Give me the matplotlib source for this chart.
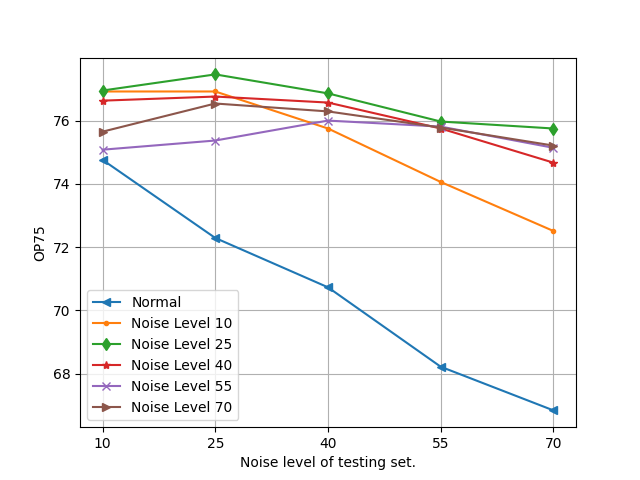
import matplotlib
matplotlib.use('Agg')
import matplotlib.pyplot as plt

noise_levels = [10, 25, 40, 55, 70]

normal = [74.76, 72.29, 70.73, 68.22, 66.84]
noise_10 = [76.92, 76.92, 75.75, 74.06, 72.51]
noise_25 = [76.95, 77.46, 76.86, 75.97, 75.75]
noise_40 = [76.63, 76.76, 76.57, 75.75, 74.67]
noise_55 = [75.08, 75.37, 76.00, 75.81, 75.14]
noise_70 = [75.65, 76.54, 76.29, 75.78, 75.21]

series = [
    ('Normal', normal, '<'),
    ('Noise Level 10', noise_10, '.'),
    ('Noise Level 25', noise_25, 'd'),
    ('Noise Level 40', noise_40, '*'),
    ('Noise Level 55', noise_55, 'x'),
    ('Noise Level 70', noise_70, '>'),
]

fig, ax = plt.subplots(figsize=(6.4, 4.8), dpi=100)
for label, values, marker in series:
    ax.plot(noise_levels, values, marker=marker, label=label)

ax.set_xticks(noise_levels)
ax.set_xlabel('Noise level of testing set.')
ax.set_ylabel('OP75')
ax.grid(True)
ax.legend(loc='lower left')

plt.savefig('out.png', dpi=100)
